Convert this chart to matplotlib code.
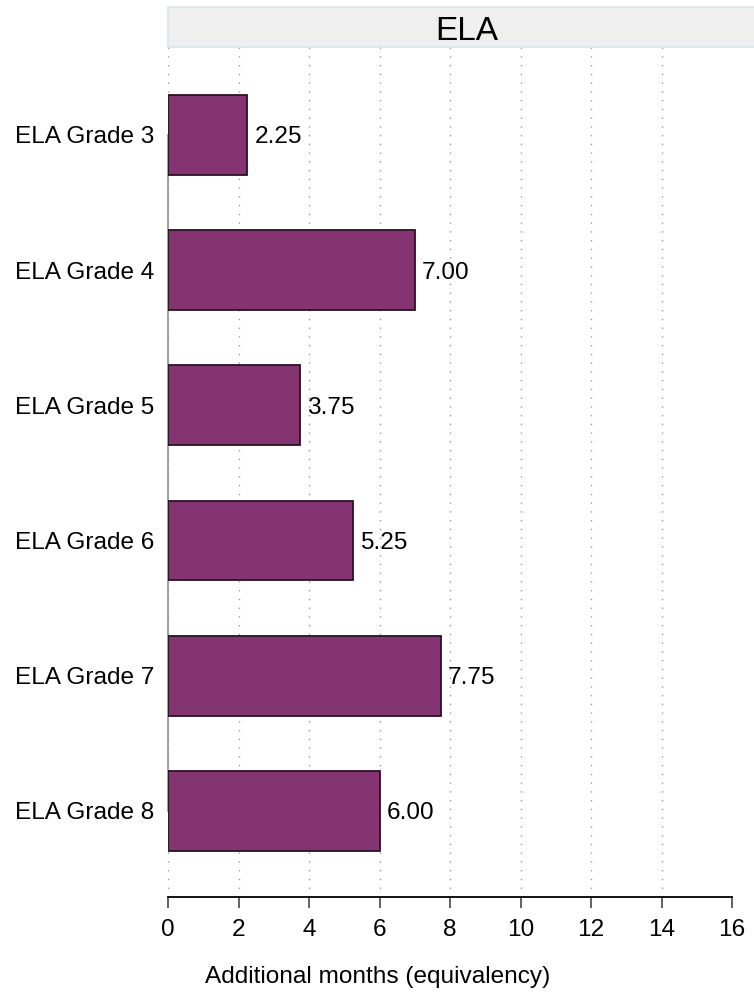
import matplotlib
matplotlib.use("Agg")
import matplotlib.pyplot as plt
from matplotlib.patches import Rectangle
import numpy as np

plt.rcParams['font.family'] = ['Liberation Sans', 'DejaVu Sans']

categories = ["ELA Grade 3", "ELA Grade 4", "ELA Grade 5", "ELA Grade 6", "ELA Grade 7", "ELA Grade 8"]
values = [2.25, 7.00, 3.75, 5.25, 7.75, 6.00]
xticks = [0, 2, 4, 6, 8, 10, 12, 14, 16]
panel_title = "ELA"
xlabel = "Additional months (equivalency)"

W, H = 754, 992
fig = plt.figure(figsize=(W / 100, H / 100), dpi=100)
fig.patch.set_facecolor("white")

ax_left, ax_right, ax_top, ax_bottom = 168, 754, 47, 897
ax = fig.add_axes([ax_left / W, 1 - ax_bottom / H, (ax_right - ax_left) / W, (ax_bottom - ax_top) / H])

px_per_unit = (732 - 168) / 16.0
ax.set_xlim(0, (ax_right - ax_left) / px_per_unit)
pos = np.arange(1, len(categories) + 1)
ax.set_ylim(6.636, 0.35)

FS = 17.6

# dotted grid
ax.vlines(xticks[:-1], 0.35, 6.636, colors="#9a9a9a", linewidth=1.0,
          linestyles=[(0, (1, 5.3))], zorder=0)

ax.barh(pos, values, height=0.59, color="#843470", edgecolor="#2a1224",
        linewidth=1.3, zorder=3)

for p, v in zip(pos, values):
    ax.annotate(f"{v:.2f}", (v, p), xytext=(5, 0), textcoords="offset points",
                va="center_baseline", ha="left", fontsize=FS, color="black")

ax.set_yticks(pos)
ax.set_yticklabels(categories, fontsize=FS, va="center_baseline")
ax.tick_params(axis="y", length=0, pad=10)

ax.set_xticks(xticks)
ax.set_xticklabels([str(t) for t in xticks], fontsize=FS)
ax.tick_params(axis="x", length=8, width=1.3, color="#555555", pad=8, direction="out")

for s in ["top", "right"]:
    ax.spines[s].set_visible(False)
ax.spines["bottom"].set_bounds(0, 16)
ax.spines["bottom"].set_linewidth(1.3)
ax.spines["bottom"].set_color("black")
ax.spines["left"].set_bounds(1, 6)
ax.spines["left"].set_color("#999999")
ax.spines["left"].set_linewidth(1.3)
ax.spines["left"].set_zorder(2)

# header strip
fig.patches.append(Rectangle((168 / W, 1 - 47 / H), (790 - 168) / W, 40 / H,
                             transform=fig.transFigure, facecolor="#efefef",
                             edgecolor="#dbe5ea", linewidth=1.2, zorder=0))
fig.text(467 / W, 1 - 28 / H, panel_title, ha="center", va="center_baseline", fontsize=24)

fig.text(378 / W, 1 - 974 / H, xlabel, ha="center", va="center_baseline", fontsize=FS)

fig.savefig("out.png", dpi=100)
